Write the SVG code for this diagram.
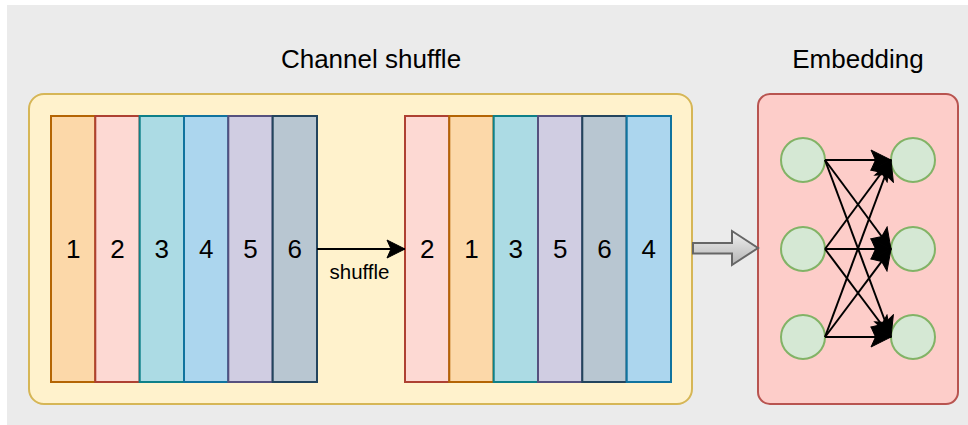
<svg xmlns="http://www.w3.org/2000/svg" width="968" height="425" viewBox="0 0 968 425">
<defs>
<style>
.lbl{font-family:"Liberation Sans",Arial,sans-serif;fill:#000;}
.title{font-size:26px;text-anchor:middle;}
.num{font-size:26px;text-anchor:middle;dominant-baseline:central;}
.bar{stroke-width:2;}
.c1{fill:#fcd8a9;stroke:#b46504;}
.c2{fill:#fdd9d3;stroke:#ae4132;}
.c3{fill:#acdbe4;stroke:#0e8088;}
.c4{fill:#acd6ee;stroke:#10739e;}
.c5{fill:#d0cde2;stroke:#56517e;}
.c6{fill:#b8c6d1;stroke:#23445d;}
.node{fill:#d5e8d4;stroke:#82b366;stroke-width:2;}
.edge{stroke:#000;stroke-width:2;fill:none;}
.e1{marker-end:url(#arr);}
.e2{marker-end:url(#arr2);}
</style>
<marker id="arr" markerUnits="userSpaceOnUse" markerWidth="20" markerHeight="20" viewBox="0 0 20 20" refX="19" refY="10" orient="auto">
<path d="M1,1 L19,10 L1,19 L5,10 Z" fill="#000" stroke="#000" stroke-width="1"/>
</marker>
<marker id="arr2" markerUnits="userSpaceOnUse" markerWidth="22" markerHeight="22" viewBox="0 0 22 22" refX="21" refY="11" orient="auto">
<path d="M1,1 L21,11 L1,21 L5.5,11 Z" fill="#000" stroke="#000" stroke-width="1"/>
</marker>
<linearGradient id="gray" x1="0" y1="0" x2="0" y2="1">
<stop offset="0" stop-color="#f2f2f2"/>
<stop offset="1" stop-color="#b3b3b3"/>
</linearGradient>
</defs>
<rect x="7" y="5" width="961" height="420" fill="#ebebeb"/>
<g id="title-shuffle"><text class="lbl title" x="371" y="68">Channel shuffle</text></g>
<g id="title-embedding"><text class="lbl title" x="858" y="68">Embedding</text></g>
<g id="shuffle-container"><rect x="29" y="94" width="663" height="310" rx="15" fill="#fff2cc" stroke="#d6b656" stroke-width="2"/></g>
<g id="embedding-container"><rect x="758" y="94" width="200" height="310" rx="12" fill="#fdcdc9" stroke="#b85450" stroke-width="2"/></g>
<g id="input-channels">
<g id="in1"><rect class="bar c1" x="51" y="116" width="44.3" height="266"/><text class="lbl num" x="73.2" y="249">1</text></g>
<g id="in2"><rect class="bar c2" x="95.3" y="116" width="44.3" height="266"/><text class="lbl num" x="117.5" y="249">2</text></g>
<g id="in3"><rect class="bar c3" x="139.7" y="116" width="44.3" height="266"/><text class="lbl num" x="161.8" y="249">3</text></g>
<g id="in4"><rect class="bar c4" x="184" y="116" width="44.3" height="266"/><text class="lbl num" x="206.2" y="249">4</text></g>
<g id="in5"><rect class="bar c5" x="228.3" y="116" width="44.3" height="266"/><text class="lbl num" x="250.5" y="249">5</text></g>
<g id="in6"><rect class="bar c6" x="272.7" y="116" width="44.3" height="266"/><text class="lbl num" x="294.8" y="249">6</text></g>
</g>
<g id="output-channels">
<g id="out2"><rect class="bar c2" x="405" y="116" width="44.3" height="266"/><text class="lbl num" x="427.2" y="249">2</text></g>
<g id="out1"><rect class="bar c1" x="449.3" y="116" width="44.3" height="266"/><text class="lbl num" x="471.5" y="249">1</text></g>
<g id="out3"><rect class="bar c3" x="493.7" y="116" width="44.3" height="266"/><text class="lbl num" x="515.8" y="249">3</text></g>
<g id="out5"><rect class="bar c5" x="538" y="116" width="44.3" height="266"/><text class="lbl num" x="560.2" y="249">5</text></g>
<g id="out6"><rect class="bar c6" x="582.3" y="116" width="44.3" height="266"/><text class="lbl num" x="604.5" y="249">6</text></g>
<g id="out4"><rect class="bar c4" x="626.7" y="116" width="44.3" height="266"/><text class="lbl num" x="648.8" y="249">4</text></g>
</g>
<g id="nodes">
<circle id="a1" class="node" cx="803" cy="160" r="22"/>
<circle id="a2" class="node" cx="803" cy="249" r="22"/>
<circle id="a3" class="node" cx="803" cy="337" r="22"/>
<circle id="b1" class="node" cx="913" cy="160" r="22"/>
<circle id="b2" class="node" cx="913" cy="249" r="22"/>
<circle id="b3" class="node" cx="913" cy="337" r="22"/>
</g>
<g id="connectors">
<line class="edge e1" x1="317" y1="249" x2="405" y2="249"/>
<text class="lbl" x="359.5" y="279" font-size="20.5" text-anchor="middle">shuffle</text>
<path d="M693,243 L732,243 L732,231 L758,248 L732,265 L732,253.5 L693,253.5 Z" fill="url(#gray)" stroke="#666666" stroke-width="2" stroke-linejoin="miter"/>
<line class="edge e2" x1="825" y1="160" x2="891" y2="160"/>
<line class="edge e2" x1="825" y1="160" x2="891" y2="249"/>
<line class="edge e2" x1="825" y1="160" x2="891" y2="337"/>
<line class="edge e2" x1="825" y1="249" x2="891" y2="160"/>
<line class="edge e2" x1="825" y1="249" x2="891" y2="249"/>
<line class="edge e2" x1="825" y1="249" x2="891" y2="337"/>
<line class="edge e2" x1="825" y1="337" x2="891" y2="160"/>
<line class="edge e2" x1="825" y1="337" x2="891" y2="249"/>
<line class="edge e2" x1="825" y1="337" x2="891" y2="337"/>
</g>
</svg>
